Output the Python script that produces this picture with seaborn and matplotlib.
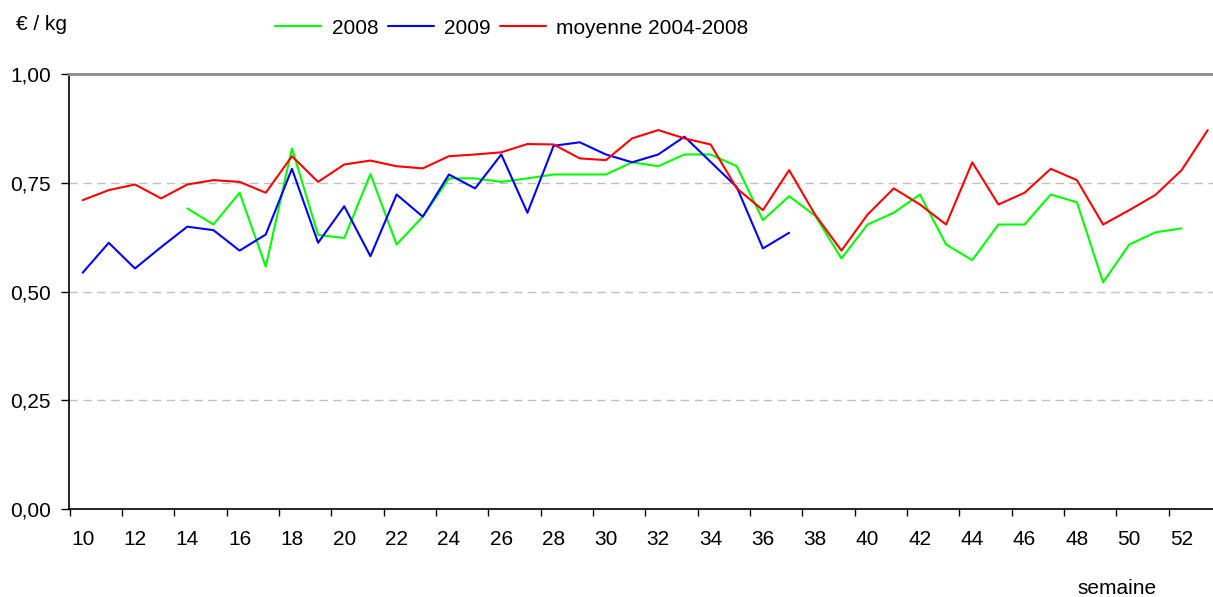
import numpy as np
import pandas as pd
import matplotlib
matplotlib.use("Agg")
import matplotlib.pyplot as plt
import seaborn as sns
from matplotlib.ticker import FixedLocator, FuncFormatter

# prix hebdomadaires en euro / kg
weeks_2008 = list(range(14, 53))
prix_2008 = [0.691, 0.654, 0.727, 0.557, 0.829, 0.630, 0.623, 0.770, 0.608, 0.672,
             0.760, 0.760, 0.752, 0.760, 0.769, 0.769, 0.769, 0.797, 0.788, 0.815,
             0.815, 0.788, 0.664, 0.719, 0.674, 0.576, 0.654, 0.681, 0.723, 0.608,
             0.572, 0.654, 0.654, 0.723, 0.705, 0.521, 0.608, 0.636, 0.645]

weeks_2009 = list(range(10, 38))
prix_2009 = [0.543, 0.612, 0.553, 0.602, 0.649, 0.641, 0.594, 0.631, 0.782, 0.612,
             0.696, 0.581, 0.723, 0.672, 0.769, 0.737, 0.815, 0.681, 0.835, 0.843,
             0.815, 0.797, 0.815, 0.856, 0.798, 0.740, 0.599, 0.635]

weeks_moy = list(range(10, 54))
prix_moy = [0.710, 0.733, 0.746, 0.714, 0.746, 0.756, 0.752, 0.727, 0.811, 0.752,
            0.792, 0.801, 0.788, 0.783, 0.811, 0.815, 0.820, 0.839, 0.838, 0.806,
            0.802, 0.852, 0.871, 0.852, 0.838, 0.737, 0.687, 0.779, 0.676, 0.594,
            0.677, 0.737, 0.700, 0.654, 0.797, 0.700, 0.727, 0.782, 0.756, 0.654,
            0.687, 0.722, 0.779, 0.871]

series = ["2008", "2009", "moyenne 2004-2008"]
colors = ["#00FF00", "#0000FF", "#FF0000"]

df = pd.concat([
    pd.DataFrame({"semaine": weeks_2008, "prix": prix_2008, "serie": series[0]}),
    pd.DataFrame({"semaine": weeks_2009, "prix": prix_2009, "serie": series[1]}),
    pd.DataFrame({"semaine": weeks_moy, "prix": prix_moy, "serie": series[2]}),
])

sns.set_theme(style="white")
plt.rcParams['font.family'] = ['Liberation Sans', 'DejaVu Sans']
plt.rcParams['text.color'] = 'black'
plt.rcParams['xtick.color'] = 'black'
plt.rcParams['ytick.color'] = 'black'

fig = plt.figure(figsize=(12.13, 5.97), dpi=100)
ax = fig.add_axes([69 / 1213, 1 - 509 / 597, 1 - 69 / 1213, (509 - 74) / 597])

sns.lineplot(data=df, x="semaine", y="prix", hue="serie", hue_order=series,
             palette=colors, estimator=None, errorbar=None, linewidth=1.5, ax=ax)

handles, labels = ax.get_legend_handles_labels()
ax.get_legend().remove()
fig.legend(handles, labels, loc="center", bbox_to_anchor=(512 / 1213, 1 - 28 / 597),
           ncol=3, frameon=False, fontsize=15, handlelength=2.2, handletextpad=0.5,
           columnspacing=0.45)

ax.set_xlim(9.48, 53.2)
ax.set_ylim(0, 1)

# axe des y
ax.set_yticks([0, 0.25, 0.5, 0.75, 1.0])
ax.yaxis.set_major_formatter(FuncFormatter(lambda v, p: f"{v:.2f}".replace(".", ",")))
ax.tick_params(axis="y", which="major", direction="out", length=6, width=1,
               color="black", labelcolor="black", labelsize=15, pad=7, left=True)
for yv in [0.25, 0.5, 0.75]:
    ax.axhline(yv, color="#c0c0c0", linestyle=(0, (6, 4)), linewidth=1, zorder=0)

# axe des x : etiquettes au centre, graduations entre les categories
ax.xaxis.set_major_locator(FixedLocator(list(range(10, 53, 2))))
ax.xaxis.set_minor_locator(FixedLocator([w - 0.5 for w in range(10, 53, 2)]))
ax.tick_params(axis="x", which="major", length=0, labelsize=15, labelcolor="black", pad=15)
ax.tick_params(axis="x", which="minor", direction="out", length=5, width=1,
               color="black", bottom=True)

ax.set_xlabel("")
ax.set_ylabel("")

for side in ["left", "bottom"]:
    ax.spines[side].set_color("black")
    ax.spines[side].set_linewidth(1.2)
ax.spines["top"].set_color("#8c8c8c")
ax.spines["top"].set_linewidth(2)
ax.spines["right"].set_visible(False)

fig.text(16 / 1213, 1 - 25 / 597, "€ / kg", fontsize=15, ha="left", va="center", color="black")
fig.text(1117 / 1213, 1 - 589 / 597, "semaine", fontsize=15, ha="center", va="center",
         color="black")

fig.savefig("out.png", dpi=100)
